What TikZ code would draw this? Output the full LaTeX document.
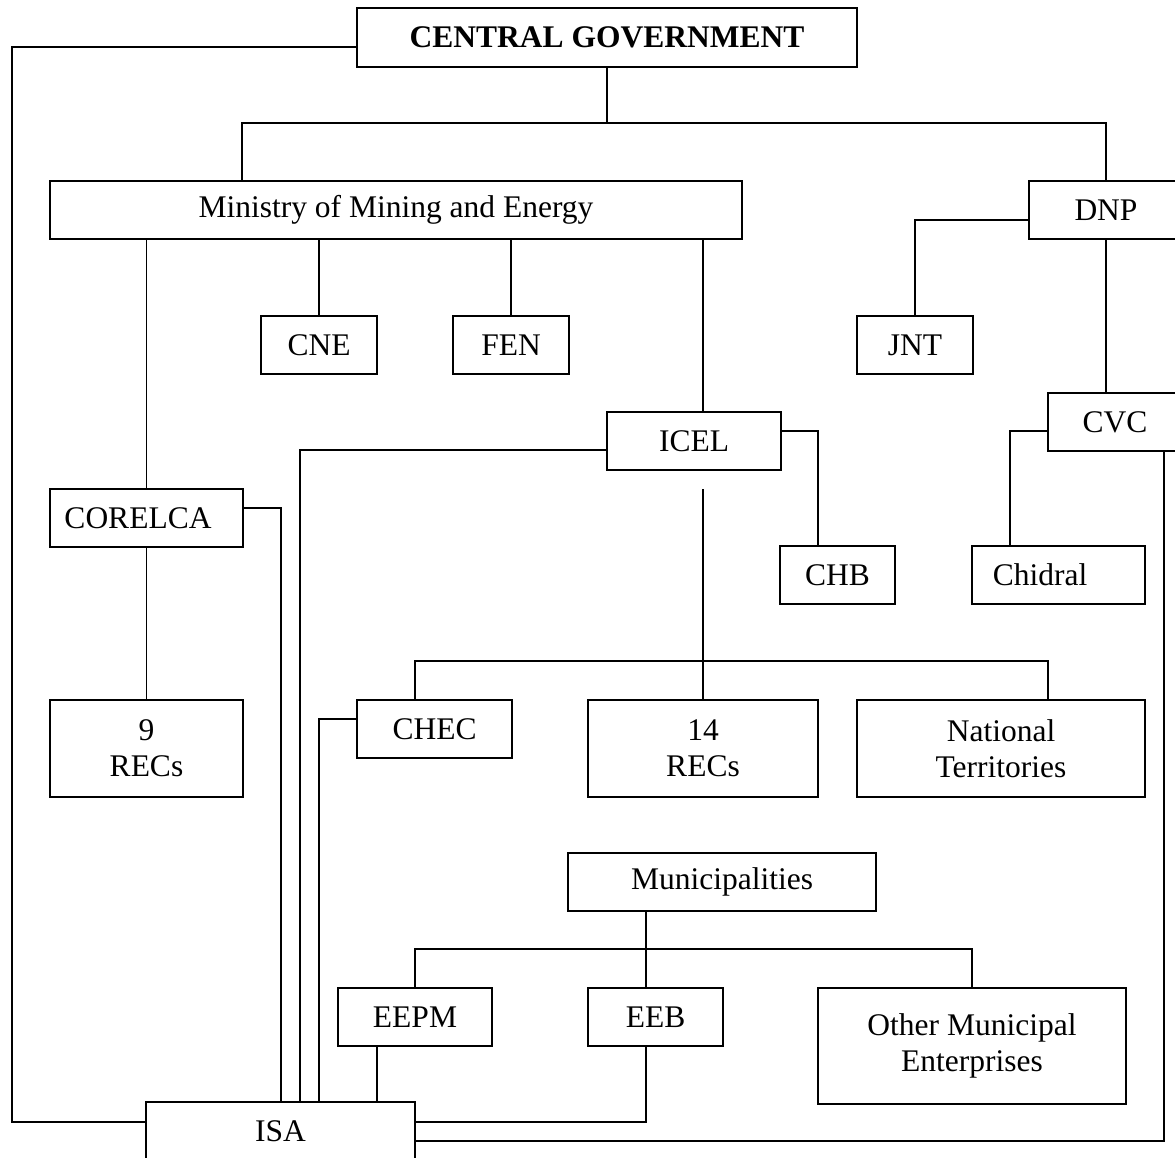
\documentclass[tikz,border=0pt]{standalone}
\usepackage{fontspec}
\setmainfont{Liberation Serif}
\begin{document}
\begin{tikzpicture}[x=1pt,y=-1pt,
  box/.style={draw,line width=1.6pt,inner sep=0pt,align=center,
    font=\fontsize{31.5}{36}\selectfont},
  conn/.style={line width=1.6pt}]
\useasboundingbox (0,0) rectangle (1175,1158);
% nodes
\node[box,minimum width=500,minimum height=59,font=\fontsize{31.5}{36}\selectfont\bfseries] (cg) at (607,37.5) {CENTRAL GOVERNMENT};
\node[box,minimum width=692,minimum height=58] (min) at (396,210) {Ministry of Mining and Energy};
\node[box,minimum width=154,minimum height=58] (dnp) at (1106,210) {DNP};
\node[box,minimum width=116,minimum height=58] (cne) at (319,345) {CNE};
\node[box,minimum width=116,minimum height=58] (fen) at (511,345) {FEN};
\node[box,minimum width=116,minimum height=58] (jnt) at (915,345) {JNT};
\node[box,minimum width=174,minimum height=58] (icel) at (694,441) {ICEL};
\node[box,minimum width=134,minimum height=58] (cvc) at (1115,422) {CVC};
\node[box,minimum width=193,minimum height=58] (corelca) at (146.5,518) {\hspace*{-17pt}CORELCA};
\node[box,minimum width=115,minimum height=58] (chb) at (837.5,575) {CHB};
\node[box,minimum width=173,minimum height=58] (chidral) at (1058.5,575) {\hspace*{-37pt}Chidral};
\node[box,minimum width=193,minimum height=97] (nine) at (146.5,748.5) {9\\RECs};
\node[box,minimum width=155,minimum height=58] (chec) at (434.5,729) {CHEC};
\node[box,minimum width=230,minimum height=97] (fourteen) at (703,748.5) {14\\RECs};
\node[box,minimum width=288,minimum height=97] (nat) at (1001,748.5) {National\\Territories};
\node[box,minimum width=308,minimum height=58] (mun) at (722,882) {Municipalities};
\node[box,minimum width=154,minimum height=58] (eepm) at (415,1017) {EEPM};
\node[box,minimum width=135,minimum height=58] (eeb) at (655.5,1017) {EEB};
\node[box,minimum width=308,minimum height=116] (other) at (972,1046) {\raisebox{8pt}{\begin{tabular}{@{}c@{}}Other Municipal\\Enterprises\end{tabular}}};
\node[box,minimum width=269,minimum height=58] (isa) at (280.5,1131) {ISA};
\coordinate (icelbr) at (703,489);
% connectors
\draw[conn] (cg.west |- 0,47) -| (12,1122) -- (isa.west |- 0,1122);
\draw[conn] (cg.south) -- (cg.south |- 0,123);
\draw[conn] (min.north -| 242,0) |- (dnp.north |- 0,123) -- (dnp.north);
\draw[conn] (min.south -| corelca.north) -- (corelca.north);
\draw[conn] (min.south -| cne.north) -- (cne.north);
\draw[conn] (min.south -| fen.north) -- (fen.north);
\draw[conn] (min.south -| 703,0) -- (icel.north -| 703,0);
\draw[conn] (dnp.west |- 0,220) -| (jnt.north);
\draw[conn] (dnp.south) -- (cvc.north -| dnp.south);
\draw[conn] (icel.west |- 0,450) -| (isa.north -| 300,0);
\draw[conn] (icel.east |- 0,431) -| (chb.north -| 818,0);
\draw[conn] (icelbr) -- (fourteen.north);
\draw[conn] (chec.north -| 415,0) |- (fourteen.north |- 0,661) -| (nat.north -| 1048,0);
\draw[conn] (cvc.west |- 0,431) -| (chidral.north -| 1010,0);
\draw[conn] (cvc.south -| 1164,0) |- (isa.east |- 0,1141);
\draw[conn] (corelca.east |- 0,508) -| (isa.north -| 281,0);
\draw[conn] (corelca.south) -- (nine.north);
\draw[conn] (chec.west |- 0,719) -| (isa.north -| 319,0);
\draw[conn] (mun.south -| 646,0) -- (eeb.north -| 646,0);
\draw[conn] (eepm.north) |- (646,949) -| (other.north);
\draw[conn] (eepm.south -| 377,0) -- (isa.north -| 377,0);
\draw[conn] (eeb.south -| 646,0) |- (isa.east |- 0,1122);
\end{tikzpicture}
\end{document}
